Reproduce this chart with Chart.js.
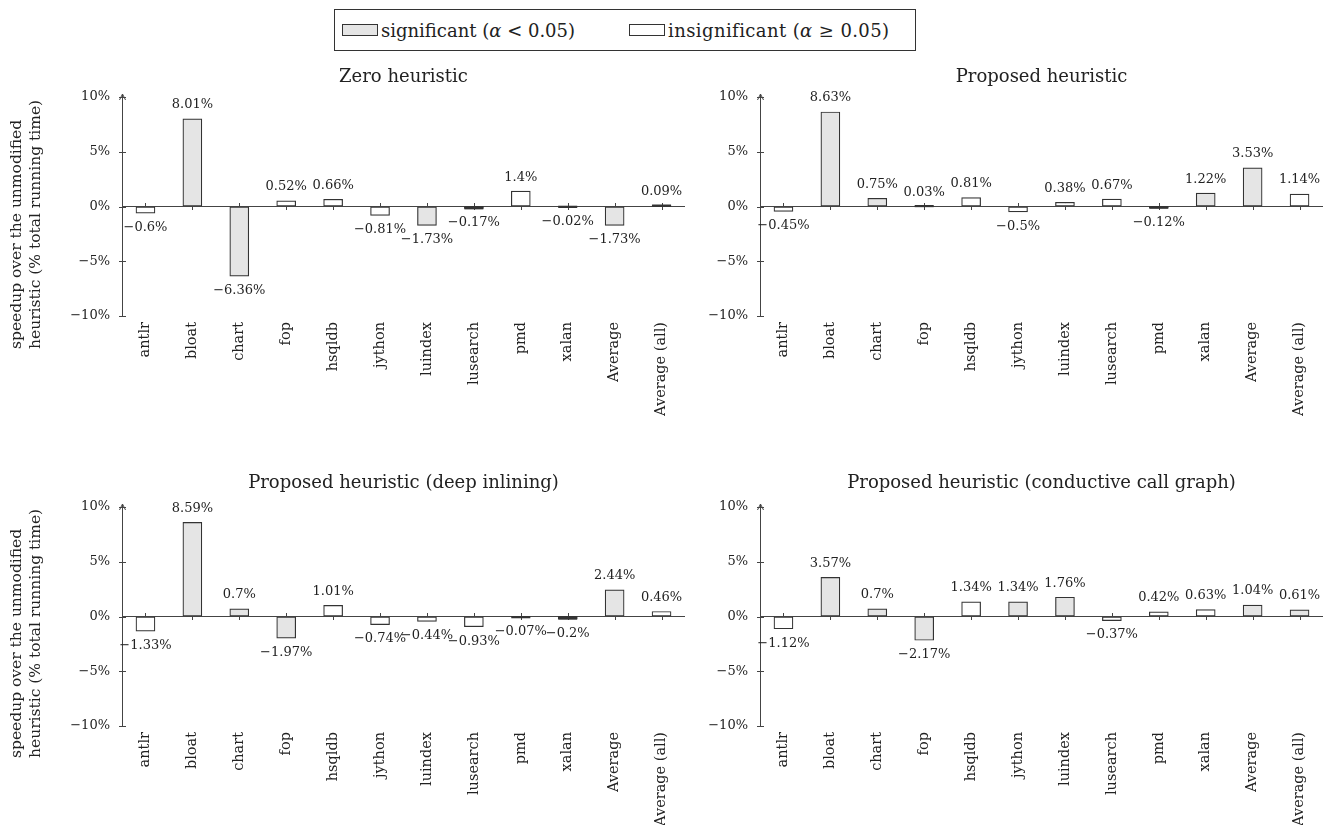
<!DOCTYPE html>
<html>
<head>
<meta charset="utf-8">
<script src="https://cdn.jsdelivr.net/npm/chart.js@4.4.1/dist/chart.umd.min.js"></script>
<style>
  html, body { margin: 0; padding: 0; background: #fff; }
  body { width: 1336px; height: 825px; position: relative; overflow: hidden; font-family: "DejaVu Serif", serif; color: #222; }
  canvas { position: absolute; }
  #legend { position: absolute; left: 334px; top: 9px; width: 582px; height: 42px; box-sizing: border-box;
            border: 1px solid #333; display: flex; align-items: center; font-size: 18px; white-space: nowrap; }
  #legend .sw { display: inline-block; width: 36px; height: 12px; border: 1px solid #333; box-sizing: border-box; margin: 0 3px 0 0; }
  #legend .item { display: flex; align-items: center; }
</style>
</head>
<body>
<div id="legend">
  <div class="item" style="margin-left:7px"><span class="sw" style="background:#e5e5e5"></span><span>significant (<i>α</i> &lt; 0.05)</span></div>
  <div class="item" style="margin-left:54px"><span class="sw" style="background:#fff"></span><span style="letter-spacing:0.4px">insignificant (<i>α</i> ≥ 0.05)</span></div>
</div>
<canvas id="c0" width="690" height="375" style="left:0px;top:55px"></canvas>
<canvas id="c1" width="696" height="375" style="left:640px;top:55px"></canvas>
<canvas id="c2" width="690" height="370" style="left:0px;top:455px"></canvas>
<canvas id="c3" width="696" height="370" style="left:640px;top:455px"></canvas>
<script>
// ---------- data ----------
const categories = ["antlr", "bloat", "chart", "fop", "hsqldb", "jython", "luindex", "lusearch", "pmd", "xalan", "Average", "Average (all)"];
const yTickValues = [-10, -5, 0, 5, 10];

const zeroTitle = "Zero heuristic";
const zeroValues = [-0.6, 8.01, -6.36, 0.52, 0.66, -0.81, -1.73, -0.17, 1.4, -0.02, -1.73, 0.09];
const zeroSignificant = [false, true, true, false, false, false, true, true, false, false, true, false];

const proposedTitle = "Proposed heuristic";
const proposedValues = [-0.45, 8.63, 0.75, 0.03, 0.81, -0.5, 0.38, 0.67, -0.12, 1.22, 3.53, 1.14];
const proposedSignificant = [false, true, true, false, false, false, false, false, true, true, true, false];

const deepTitle = "Proposed heuristic (deep inlining)";
const deepValues = [-1.33, 8.59, 0.7, -1.97, 1.01, -0.74, -0.44, -0.93, -0.07, -0.2, 2.44, 0.46];
const deepSignificant = [false, true, true, true, false, false, false, false, false, true, true, false];

const conductiveTitle = "Proposed heuristic (conductive call graph)";
const conductiveValues = [-1.12, 3.57, 0.7, -2.17, 1.34, 1.34, 1.76, -0.37, 0.42, 0.63, 1.04, 0.61];
const conductiveSignificant = [false, true, true, true, false, true, true, false, false, false, true, true];

const yAxisTitleLines = ["speedup over the unmodified", "heuristic (% total running time)"];

// ---------- rendering ----------
const FONT = '"DejaVu Serif", serif';
const AXIS = '#444';
const TEXT = '#222';
const BAR_EDGE = '#333';
const SIG_FILL = '#e5e5e5';
const INSIG_FILL = '#ffffff';

function fmtPct(v) {
  return (v < 0 ? '\u2212' : '') + String(Math.abs(v)) + '%';
}

const decorPlugin = {
  id: 'decor',
  beforeDatasetsDraw(chart) {
    const ctx = chart.ctx;
    const xs = chart.scales.x, ys = chart.scales.y;
    const area = chart.chartArea;
    const y0 = ys.getPixelForValue(0);
    const ax = Math.round(area.left) + 0.5;
    ctx.save();
    ctx.strokeStyle = AXIS;
    ctx.lineWidth = 1;
    // category tick marks on zero line
    categories.forEach((c, i) => {
      const x = Math.round(xs.getPixelForValue(i)) + 0.5;
      ctx.beginPath();
      ctx.moveTo(x, y0 - 3.5);
      ctx.lineTo(x, y0 + 3.5);
      ctx.stroke();
    });
    // y tick marks
    yTickValues.forEach(v => {
      const y = Math.round(ys.getPixelForValue(v)) + 0.5;
      ctx.beginPath();
      ctx.moveTo(ax - 3.5, y);
      ctx.lineTo(ax + 3.5, y);
      ctx.stroke();
    });
    // arrow at top of y axis
    const top = area.top;
    ctx.beginPath();
    ctx.moveTo(ax, top + 1);
    ctx.lineTo(ax, top - 3);
    ctx.stroke();
    ctx.beginPath();
    ctx.moveTo(ax - 3, top + 3);
    ctx.lineTo(ax, top - 3);
    ctx.lineTo(ax + 3, top + 3);
    ctx.stroke();
    ctx.restore();
  },
  afterDatasetsDraw(chart) {
    const ctx = chart.ctx;
    const meta = chart.getDatasetMeta(0);
    const data = chart.data.datasets[0].data;
    ctx.save();
    // very short bars: outline collapses to a dark stroke
    ctx.fillStyle = BAR_EDGE;
    meta.data.forEach(bar => {
      const h = Math.abs(bar.y - bar.base);
      if (h < 2) {
        const w = bar.width;
        ctx.fillRect(bar.x - w / 2, Math.min(bar.y, bar.base) - 1, w, Math.max(h, 0) + 2);
      }
    });
    ctx.font = '13px ' + FONT;
    ctx.fillStyle = TEXT;
    ctx.textAlign = 'center';
    ctx.textBaseline = 'middle';
    meta.data.forEach((bar, i) => {
      const v = data[i];
      const y = v >= 0 ? bar.y - 14 : bar.y + 14.5;
      ctx.fillText(fmtPct(v), bar.x, y);
    });
    ctx.restore();
  },
  afterDraw(chart, args, opts) {
    if (!opts.yTitle) return;
    const ctx = chart.ctx;
    ctx.save();
    ctx.font = '15.5px ' + FONT;
    ctx.fillStyle = TEXT;
    ctx.textAlign = 'left';
    ctx.textBaseline = 'middle';
    const xs = [17, 36];
    opts.yTitle.forEach((line, k) => {
      ctx.save();
      ctx.translate(xs[k], opts.yTitleStart);
      ctx.rotate(-Math.PI / 2);
      ctx.fillText(line, 0, 0);
      ctx.restore();
    });
    ctx.restore();
  }
};

function makeChart(id, title, values, significant, cfg) {
  return new Chart(document.getElementById(id), {
    type: 'bar',
    data: {
      labels: categories,
      datasets: [{
        data: values,
        backgroundColor: significant.map(s => s ? SIG_FILL : INSIG_FILL),
        borderColor: BAR_EDGE,
        borderWidth: 1.2,
        borderSkipped: false,
        barThickness: 19
      }]
    },
    options: {
      responsive: false,
      animation: false,
      devicePixelRatio: 1,
      layout: { padding: { left: 0, right: cfg.padRight, top: 0, bottom: 0 } },
      plugins: {
        legend: { display: false },
        tooltip: { enabled: false },
        title: {
          display: true,
          text: title,
          fullSize: false,
          color: TEXT,
          font: { family: FONT, size: 18, weight: 'normal', lineHeight: 1.2 },
          padding: { top: cfg.titleTop, bottom: cfg.titleBottom }
        },
        decor: { yTitle: cfg.yTitle, yTitleStart: cfg.yTitleStart }
      },
      scales: {
        x: {
          type: 'category',
          offset: true,
          grid: { display: false },
          border: { display: false },
          ticks: {
            autoSkip: false,
            minRotation: 90,
            maxRotation: 90,
            padding: -2,
            color: TEXT,
            font: { family: FONT, size: 14.5 }
          },
          afterFit: s => { s.height = cfg.xHeight; }
        },
        y: {
          min: -10,
          max: 10,
          afterBuildTicks: s => { s.ticks = yTickValues.map(v => ({ value: v })); },
          ticks: {
            padding: 12,
            color: TEXT,
            font: { family: FONT, size: 13 },
            callback: v => fmtPct(v)
          },
          grid: {
            drawTicks: false,
            lineWidth: 1,
            color: c => (c.tick && c.tick.value === 0) ? AXIS : 'rgba(0,0,0,0)'
          },
          border: { display: true, color: AXIS, width: 1 },
          afterFit: s => { s.width = cfg.yWidth; }
        }
      }
    },
    plugins: [decorPlugin]
  });
}

const topCfg = { titleTop: 11.2, titleBottom: 9.2, xHeight: 114 };
const botCfg = { titleTop: 17.2, titleBottom: 13.2, xHeight: 99 };

makeChart('c0', zeroTitle, zeroValues, zeroSignificant,
  Object.assign({}, topCfg, { yWidth: 122, padRight: 5, yTitle: yAxisTitleLines, yTitleStart: 349 - 55 }));
makeChart('c1', proposedTitle, proposedValues, proposedSignificant,
  Object.assign({}, topCfg, { yWidth: 120, padRight: 13, yTitle: null }));
makeChart('c2', deepTitle, deepValues, deepSignificant,
  Object.assign({}, botCfg, { yWidth: 122, padRight: 5, yTitle: yAxisTitleLines, yTitleStart: 758 - 455 }));
makeChart('c3', conductiveTitle, conductiveValues, conductiveSignificant,
  Object.assign({}, botCfg, { yWidth: 120, padRight: 13, yTitle: null }));
</script>
</body>
</html>
